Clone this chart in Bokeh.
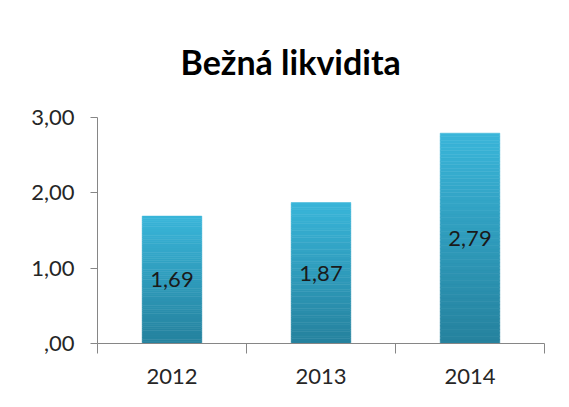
from bokeh.plotting import figure
from bokeh.models import FixedTicker, Range1d, ColumnDataSource
from bokeh.embed import file_html
from bokeh.resources import INLINE
from bokeh.core.properties import value

# ---- data ----
years = ["2012", "2013", "2014"]
liquidity = [1.69, 1.87, 2.79]
y_ticks = [0, 1, 2, 3]
y_tick_labels = [",00", "1,00", "2,00", "3,00"]
title_text = "Bežná likvidita"

FONT = "Lato"
AXIS_COLOR = "#868686"
TEXT_COLOR = "#262626"
TOP_RGB = (58, 182, 218)
BOT_RGB = (38, 130, 158)

W, H = 553, 391
p = figure(width=W, height=H, output_backend="svg", toolbar_location=None,
           x_range=Range1d(0, len(years)), y_range=Range1d(0, 3),
           min_border_left=97, min_border_top=117, min_border_right=9, min_border_bottom=48)

p.title.text = title_text
p.title.text_font = FONT
p.title.text_font_size = "34px"
p.title.text_font_style = "bold"
p.title.text_color = "#000000"
p.title.align = "left"
p.title.standoff = 72
p.title.offset = 83

p.outline_line_color = None
p.xgrid.visible = False
p.ygrid.visible = False
p.background_fill_color = "white"
p.border_fill_color = "white"

# gradient bars from slices
N = 60
xs, bots, tops, cols = [], [], [], []
for i, v in enumerate(liquidity):
    for k in range(N):
        f0 = k / N
        f1 = (k + 1) / N
        t = (k + 0.5) / N
        r = int(BOT_RGB[0] + (TOP_RGB[0] - BOT_RGB[0]) * t)
        g = int(BOT_RGB[1] + (TOP_RGB[1] - BOT_RGB[1]) * t)
        b = int(BOT_RGB[2] + (TOP_RGB[2] - BOT_RGB[2]) * t)
        xs.append(i + 0.5)
        bots.append(v * f0)
        tops.append(v * f1 + (v / N) * 0.05)
        cols.append("#%02x%02x%02x" % (r, g, b))
src = ColumnDataSource(dict(x=xs, bottom=bots, top=tops, color=cols))
p.vbar(x="x", bottom="bottom", top="top", width=0.4, fill_color="color",
       line_color="color", line_width=0.5, source=src)

lab = ColumnDataSource(dict(x=[i + 0.5 for i in range(len(years))],
                            y=[v / 2 for v in liquidity],
                            t=[f"{v:.2f}".replace(".", ",") for v in liquidity]))
p.text(x="x", y="y", text="t", source=lab, text_align="center", text_baseline="middle",
       text_font=value(FONT), text_font_size="22px", text_color="#1a1a1a")

# x axis: labels at centers, tick marks at boundaries
xa = p.xaxis[0]
xa.ticker = FixedTicker(ticks=[i + 0.5 for i in range(len(years))],
                        minor_ticks=list(range(len(years) + 1)))
xa.major_label_overrides = {i + 0.5: y for i, y in enumerate(years)}
xa.major_tick_out = 0
xa.major_tick_in = 0
xa.minor_tick_out = 10
xa.minor_tick_in = 0
xa.minor_tick_line_color = AXIS_COLOR
xa.axis_line_color = AXIS_COLOR
xa.major_label_text_font = FONT
xa.major_label_text_font_size = "22px"
xa.major_label_text_color = TEXT_COLOR
xa.major_label_standoff = 15

ya = p.yaxis[0]
ya.ticker = FixedTicker(ticks=y_ticks)
ya.major_label_overrides = {t: l for t, l in zip(y_ticks, y_tick_labels)}
ya.major_tick_out = 7
ya.major_tick_in = 0
ya.minor_tick_out = 0
ya.minor_tick_in = 0
ya.axis_line_color = AXIS_COLOR
ya.major_tick_line_color = AXIS_COLOR
ya.major_label_text_font = FONT
ya.major_label_text_font_size = "22px"
ya.major_label_text_color = TEXT_COLOR
ya.major_label_standoff = 16

open("out.html", "w").write(file_html(p, INLINE))
